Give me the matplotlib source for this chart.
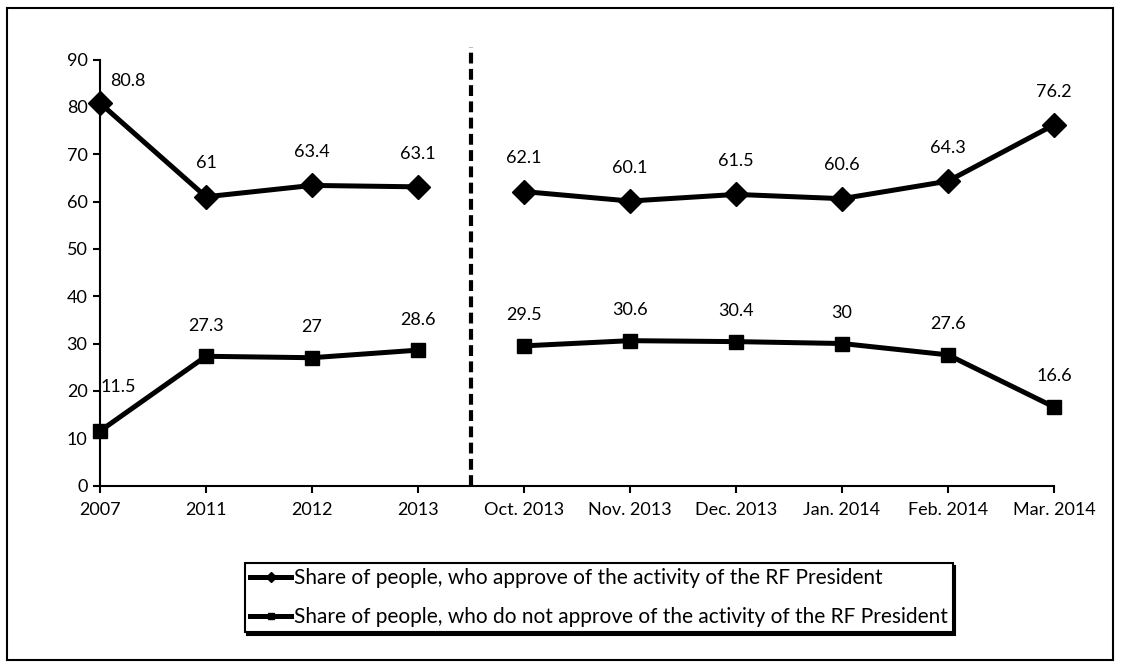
import numpy as np
import matplotlib.pyplot as plt
from matplotlib.lines import Line2D
from matplotlib.patches import Rectangle

periods = ['2007', '2011', '2012', '2013', 'Oct. 2013', 'Nov. 2013',
           'Dec. 2013', 'Jan. 2014', 'Feb. 2014', 'Mar. 2014']
approve = [80.8, 61, 63.4, 63.1, 62.1, 60.1, 61.5, 60.6, 64.3, 76.2]
disapprove = [11.5, 27.3, 27, 28.6, 29.5, 30.6, 30.4, 30, 27.6, 16.6]
yearly_count = 4  # first four points are yearly, the rest monthly

approve_label = 'Share of people, who approve of the activity of the RF President'
disapprove_label = 'Share of people, who do not approve of the activity of the RF President'

plt.rcParams['font.family'] = ['Lato', 'DejaVu Sans']

fig = plt.figure(figsize=(11.21, 6.68), dpi=100)
ax = fig.add_axes([0.0892, 0.2732, 0.9402 - 0.0892, 0.9109 - 0.2732])

x = np.arange(len(periods))
for seg in (slice(0, yearly_count), slice(yearly_count, None)):
    ax.plot(x[seg], approve[seg], color='black', lw=3.6, marker='D', ms=12.5, clip_on=False)
    ax.plot(x[seg], disapprove[seg], color='black', lw=3.6, marker='s', ms=10.5, clip_on=False)

# data labels
for i, v in enumerate(approve):
    if i == 0:
        ax.annotate(f'{v:g}', (x[i], v), xytext=(20, 16), textcoords='offset points',
                    ha='center', va='center', fontsize=13)
    else:
        ax.annotate(f'{v:g}', (x[i], v), xytext=(0, 24), textcoords='offset points',
                    ha='center', va='center', fontsize=13)
for i, v in enumerate(disapprove):
    if i == 0:
        ax.annotate(f'{v:g}', (x[i], v), xytext=(13, 32), textcoords='offset points',
                    ha='center', va='center', fontsize=13)
    else:
        ax.annotate(f'{v:g}', (x[i], v), xytext=(0, 22), textcoords='offset points',
                    ha='center', va='center', fontsize=13)

# separator between yearly and monthly data
ax.axvline(yearly_count - 0.5, ymin=0, ymax=1.03, color='black', lw=3,
           ls=(0, (2.6, 1.3)), clip_on=False)

ax.set_xlim(0, len(periods) - 1)
ax.set_ylim(0, 90)
ax.set_yticks(range(0, 91, 10))
ax.set_xticks(x)
ax.set_xticklabels(periods)
ax.tick_params(labelsize=13, width=1.5, length=5, color='black', pad=4)
ax.tick_params(axis='x', pad=7)
for s in ['top', 'right']:
    ax.spines[s].set_visible(False)
for s in ['left', 'bottom']:
    ax.spines[s].set_linewidth(1.5)

handles = [Line2D([], [], color='black', lw=3.6, marker='D', ms=5),
           Line2D([], [], color='black', lw=3.6, marker='s', ms=5)]
leg = fig.legend(handles, [approve_label, disapprove_label], loc='center',
                 bbox_to_anchor=(0.534, 0.105), fontsize=15, fancybox=False,
                 edgecolor='black', handlelength=2.0, handletextpad=0.1,
                 borderpad=0.25, labelspacing=0.9, framealpha=1,
                 borderaxespad=0, shadow={'color': 'black', 'alpha': 1})
leg.get_frame().set_linewidth(1.5)

fig.patches.append(Rectangle((7 / 1121, 8 / 668), 1106 / 1121, 652 / 668,
                             transform=fig.transFigure, fill=False,
                             edgecolor='black', lw=1.5))

fig.savefig('out.png', dpi=100)
